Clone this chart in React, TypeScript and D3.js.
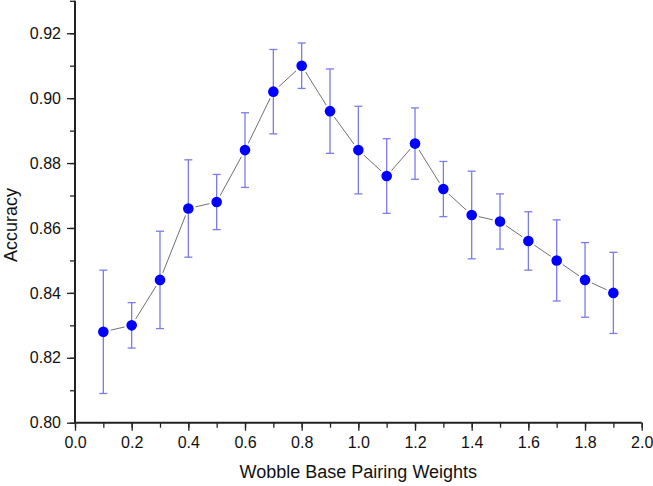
import React, { useRef, useEffect } from "react";
import * as d3 from "d3";

const weights = [0.1, 0.2, 0.3, 0.4, 0.5, 0.6, 0.7, 0.8, 0.9, 1.0, 1.1, 1.2, 1.3, 1.4, 1.5, 1.6, 1.7, 1.8, 1.9];
const accuracy = [0.828, 0.83, 0.844, 0.866, 0.868, 0.884, 0.902, 0.91, 0.896, 0.884, 0.876, 0.886, 0.872, 0.864, 0.862, 0.856, 0.85, 0.844, 0.84];
const errors = [0.019, 0.007, 0.015, 0.015, 0.0085, 0.0115, 0.013, 0.007, 0.013, 0.0135, 0.0115, 0.011, 0.0085, 0.0135, 0.0085, 0.009, 0.0125, 0.0115, 0.0125];
const xTicks = [0, 0.2, 0.4, 0.6, 0.8, 1.0, 1.2, 1.4, 1.6, 1.8, 2.0];
const yTicks = [0.8, 0.82, 0.84, 0.86, 0.88, 0.9, 0.92];

const App = () => {
  const svgRef = useRef<SVGSVGElement>(null);

  useEffect(() => {
    const svg = d3.select(svgRef.current);
    svg.selectAll("*").remove();
    const font = "Arial, 'Liberation Sans', sans-serif";

    const x = d3.scaleLinear().domain([0, 2]).range([75, 641.7]);
    const y = d3.scaleLinear().domain([0.8, 0.93]).range([422.7, 0.8]);

    const data = weights.map((w, i) => ({ w, a: accuracy[i], e: errors[i] }));

    // connecting line
    const line = d3
      .line<{ w: number; a: number }>()
      .x((d) => x(d.w))
      .y((d) => y(d.a));
    svg
      .append("path")
      .datum(data)
      .attr("d", line)
      .attr("fill", "none")
      .attr("stroke", "#707070")
      .attr("stroke-width", 1);

    // white gaps round the markers
    svg
      .selectAll(".gap")
      .data(data)
      .enter()
      .append("circle")
      .attr("cx", (d) => x(d.w))
      .attr("cy", (d) => y(d.a))
      .attr("r", 7.5)
      .attr("fill", "white");

    // error bars
    const eb = svg.append("g").attr("stroke", "#7b7bea").attr("stroke-width", 1.3);
    data.forEach((d) => {
      const cx = x(d.w);
      eb.append("line").attr("x1", cx).attr("x2", cx).attr("y1", y(d.a - d.e)).attr("y2", y(d.a + d.e));
      eb.append("line").attr("x1", cx - 4).attr("x2", cx + 4).attr("y1", y(d.a - d.e)).attr("y2", y(d.a - d.e));
      eb.append("line").attr("x1", cx - 4).attr("x2", cx + 4).attr("y1", y(d.a + d.e)).attr("y2", y(d.a + d.e));
    });

    svg
      .selectAll(".pt")
      .data(data)
      .enter()
      .append("circle")
      .attr("cx", (d) => x(d.w))
      .attr("cy", (d) => y(d.a))
      .attr("r", 5.3)
      .attr("fill", "#0000ff");

    // X axis
    const xAxis = svg.append("g").attr("transform", `translate(0,${y(0.8)})`);
    xAxis
      .call(d3.axisBottom(x).tickValues(d3.range(0, 2.01, 0.1)).tickSize(5).tickFormat(() => ""))
      .call((g) => g.select(".domain").remove());
    xAxis.selectAll("line").attr("stroke", "#222").attr("stroke-width", 1.3);
    const xMajor = svg.append("g").attr("transform", `translate(0,${y(0.8)})`);
    xMajor
      .call(d3.axisBottom(x).tickValues(xTicks).tickSize(8).tickPadding(6).tickFormat(d3.format(".1f")))
      .call((g) => g.select(".domain").remove());
    xMajor.selectAll("line").attr("stroke", "#222").attr("stroke-width", 1.3);
    xMajor.selectAll("text").attr("font-family", font).attr("font-size", 16).attr("fill", "#111");

    // Y axis
    const yAxis = svg.append("g").attr("transform", `translate(${x(0)},0)`);
    yAxis
      .call(d3.axisLeft(y).tickValues(d3.range(0.8, 0.931, 0.01)).tickSize(5).tickFormat(() => ""))
      .call((g) => g.select(".domain").remove());
    yAxis.selectAll("line").attr("stroke", "#222").attr("stroke-width", 1.3);
    const yMajor = svg.append("g").attr("transform", `translate(${x(0)},0)`);
    yMajor
      .call(d3.axisLeft(y).tickValues(yTicks).tickSize(8).tickPadding(6).tickFormat(d3.format(".2f")))
      .call((g) => g.select(".domain").remove());
    yMajor.selectAll("line").attr("stroke", "#222").attr("stroke-width", 1.3);
    yMajor.selectAll("text").attr("font-family", font).attr("font-size", 16).attr("fill", "#111");

    // axis lines
    svg
      .append("path")
      .attr("d", `M${x(0)},${y(0.93)}V${y(0.8)}H${x(2)}`)
      .attr("fill", "none")
      .attr("stroke", "#222")
      .attr("stroke-width", 2);

    svg
      .append("text")
      .attr("x", (x(0) + x(2)) / 2)
      .attr("y", 478)
      .attr("text-anchor", "middle")
      .attr("font-family", font)
      .attr("font-size", 18)
      .attr("fill", "#111")
      .text("Wobble Base Pairing Weights");

    svg
      .append("text")
      .attr("transform", `translate(17,225) rotate(-90)`)
      .attr("text-anchor", "middle")
      .attr("font-family", font)
      .attr("font-size", 18)
      .attr("fill", "#111")
      .text("Accuracy");
  }, []);

  return (
    <svg
      ref={svgRef}
      width={653}
      height={486}
      style={{ position: "absolute", left: 0, top: 0, background: "white" }}
    ></svg>
  );
};

export default App;
